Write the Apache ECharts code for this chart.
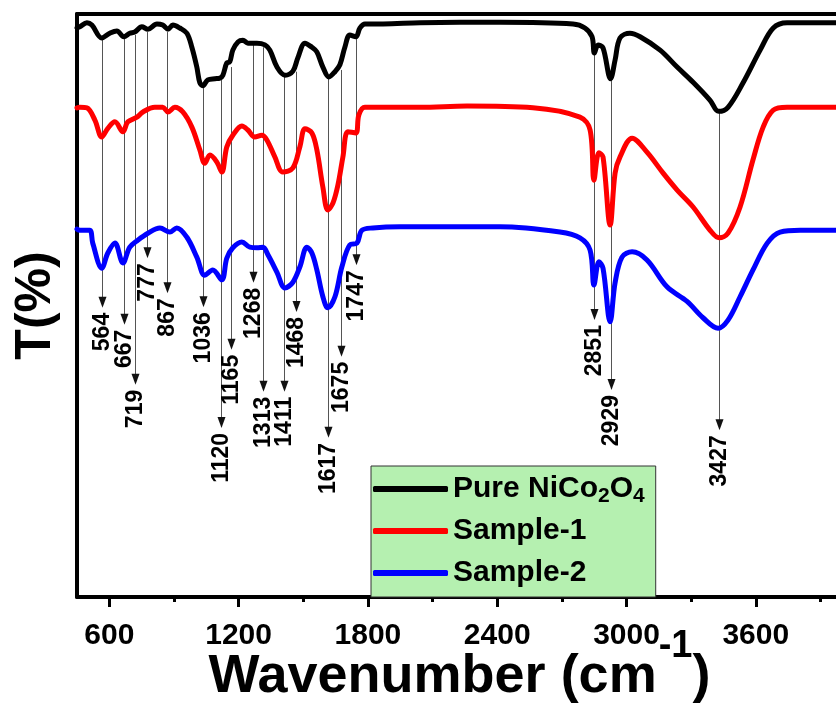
<!DOCTYPE html>
<html>
<head>
<meta charset="utf-8">
<script src="https://cdn.jsdelivr.net/npm/echarts@6/dist/echarts.min.js"></script>
<style>
html,body{margin:0;padding:0;background:#fff;}
#chart{width:836px;height:707px;}
</style>
</head>
<body>
<div id="chart"></div>
<script>
// ---- data ----
const seriesNames = ['Pure NiCo2O4', 'Sample-1', 'Sample-2'];

const waveBlack = [450,463,496,519,565,602,635,667,695,718,751,779,821,848,872,895,927,960,983,1006,1020,1034,1057,1090,1113,1127,1145,1159,1173,1197,1220,1243,1285,1322,1345,1378,1415,1452,1475,1508,1540,1563,1591,1619,1647,1670,1693,1716,1744,1763,1786,1870,2042,2413,2752,2807,2840,2851,2868,2891,2926,2947,2970,3016,3063,3156,3235,3309,3388,3427,3471,3541,3620,3681,3745,3973,4000];
const tBlack    = [97.6,97.8,98.5,98.1,95.9,96.7,97.1,96.1,96.7,96.9,97.8,97.4,98.3,98.1,97.4,98.1,97.6,96.7,94.3,90.9,88.2,87.7,88.7,88.9,89.0,89.5,91.6,91.8,93.8,95.2,95.5,95.0,95.0,94.7,93.8,90.9,89.5,90.2,92.5,95.0,94.3,93.5,90.9,89.2,90.1,91.3,94.3,96.4,96.1,97.6,98.3,98.3,98.5,98.6,98.3,97.6,96.1,93.3,94.7,94.2,88.9,92.1,95.9,96.7,96.1,93.8,90.9,88.3,85.2,83.3,84.0,88.2,93.8,97.6,98.5,98.5,98.5];

const waveRed = [450,463,496,533,565,593,626,663,686,728,756,811,848,872,904,941,983,1020,1043,1067,1099,1122,1145,1173,1215,1243,1275,1308,1331,1368,1405,1452,1484,1508,1540,1563,1591,1614,1638,1661,1684,1707,1744,1758,1786,2042,2260,2566,2784,2831,2849,2872,2891,2924,2947,2970,3026,3095,3170,3235,3309,3388,3430,3471,3527,3587,3634,3681,3745,4000];
const tRed    = [83.9,84.0,83.9,81.8,78.9,80.4,81.5,79.8,81.5,82.3,83.2,84.0,84.0,83.2,84.0,83.2,80.6,76.7,74.4,75.8,74.6,72.9,77.2,79.2,80.8,80.1,78.9,79.2,78.4,75.5,72.9,73.6,77.2,80.3,79.6,76.7,70.3,66.4,67.6,70.7,75.5,79.8,79.6,82.7,84.0,84.0,84.2,83.9,82.3,80.1,71.5,76.2,75.5,63.8,72.7,75.5,78.7,76.3,72.7,69.8,66.9,62.9,61.6,62.4,66.9,75.0,80.6,83.5,84.0,84.0];

const waveBlue = [450,463,509,523,565,593,626,663,695,732,779,835,881,913,960,1006,1043,1080,1122,1145,1173,1215,1252,1285,1313,1336,1378,1415,1452,1484,1517,1540,1563,1591,1614,1647,1679,1716,1749,1772,1823,1949,2413,2691,2784,2831,2849,2872,2891,2924,2947,2979,3026,3095,3188,3281,3355,3425,3471,3527,3587,3653,3713,3806,4000];
const tBlue    = [63.1,62.9,62.9,60.7,56.4,59.0,60.7,57.3,60.0,61.2,62.4,63.3,62.6,63.3,61.7,58.3,55.2,56.1,54.4,58.1,59.9,60.9,60.0,59.9,60.0,58.7,55.7,53.0,54.0,56.6,60.0,59.0,56.1,51.5,49.6,51.5,56.6,60.4,60.7,62.9,63.3,63.5,63.5,62.6,61.6,59.5,53.5,57.5,56.4,47.2,53.9,58.3,59.2,57.8,53.2,50.7,47.9,46.1,47.5,51.5,56.1,60.7,62.6,62.9,62.9];

// peak annotations: wavenumber, line start (T), arrow tip (T)
const peakWave  = [564,667,719,777,867,1036,1120,1165,1268,1313,1411,1468,1617,1675,1747,2851,2929,3427];
const peakTop   = [95.7,95.9,96.4,96.9,96.9,87.3,88.7,90.9,94.7,94.3,89.5,90.1,89.0,90.4,96.1,93.0,88.7,83.2];
const peakArrow = [49.6,46.7,36.4,58.1,52.1,49.7,29.0,42.4,53.9,35.2,35.2,48.9,27.3,41.2,56.9,47.5,35.5,28.6];

const majorTicks = [600,1200,1800,2400,3000,3600];
const minorTicks = [900,1500,2100,2700,3300,3900];

const FONT = '"Liberation Sans", Arial, sans-serif';
const zip = (xs, ys) => xs.map((x, i) => [x, ys[i]]);

const chart = echarts.init(document.getElementById('chart'), null, {renderer: 'canvas'});

const peakData = peakWave.map((w, i) => [w, peakTop[i], peakArrow[i]]);

const curveStyle = (c) => ({
  type: 'line', showSymbol: false, symbol: 'none', smooth: 0.35, z: 5,
  lineStyle: {color: c, width: 5, cap: 'round', join: 'round'},
  itemStyle: {color: c}
});

function renderPeak(params, api) {
  const w = api.value(0);
  const p0 = api.coord([w, api.value(1)]);
  const p1 = api.coord([w, api.value(2)]);
  const x = Math.round(p0[0]) + 0.5;
  return {
    type: 'group',
    children: [
      {type: 'line', shape: {x1: x, y1: p0[1], x2: x, y2: p1[1] - 8},
       style: {stroke: '#555', lineWidth: 1}},
      {type: 'polygon', shape: {points: [[x - 4, p1[1] - 11], [x + 4, p1[1] - 11], [x, p1[1]]]},
       style: {fill: '#111'}},
      {type: 'text', x: x, y: p1[1] + 5, rotation: Math.PI / 2,
       style: {text: String(w), align: 'right', verticalAlign: 'middle', fill: '#000',
               font: 'bold 23px "Liberation Sans", Arial, sans-serif'}}
    ]
  };
}

chart.setOption({
  animation: false,
  backgroundColor: '#ffffff',
  grid: {left: 77, right: -6, top: 14, bottom: 110, containLabel: false, outerBoundsMode: 'none'},
  xAxis: [
    {
      type: 'value', position: 'bottom', min: 450, max: 4000,
      axisLine: {show: true, lineStyle: {color: '#000', width: 4}},
      axisTick: {show: true, inside: false, length: 10, customValues: majorTicks, lineStyle: {color: '#000', width: 3}},
      axisLabel: {show: true, customValues: majorTicks, margin: 24, color: '#000', fontFamily: FONT, fontWeight: 'bold', fontSize: 30,
                  formatter: (v) => String(v)},
      splitLine: {show: false},
      name: 'Wavenumber (cm{sup|-1})',
      nameLocation: 'middle', nameGap: 25, nameMoveOverlap: false,
      nameTextStyle: {
        color: '#000', fontFamily: FONT, fontWeight: 'bold', fontSize: 54, lineHeight: 110,
        rich: {sup: {color: '#000', fontFamily: FONT, fontWeight: 'bold', fontSize: 38, lineHeight: 38, verticalAlign: 'top', padding: [6, 0, 0, 2]}}
      }
    },
    {
      type: 'value', position: 'bottom', min: 450, max: 4000,
      axisLine: {show: false},
      axisTick: {show: true, inside: false, length: 5, customValues: minorTicks, lineStyle: {color: '#000', width: 3}},
      axisLabel: {show: false},
      splitLine: {show: false}
    },
    {
      type: 'value', position: 'top', min: 450, max: 4000,
      axisLine: {show: true, lineStyle: {color: '#000', width: 4}},
      axisTick: {show: false}, axisLabel: {show: false}, splitLine: {show: false}
    }
  ],
  yAxis: {
    type: 'value', min: 0, max: 100,
    axisLine: {show: true, lineStyle: {color: '#000', width: 4}},
    axisTick: {show: false}, axisLabel: {show: false}, splitLine: {show: false},
    name: 'T(%)', nameLocation: 'middle', nameGap: 16, nameRotate: 90, nameMoveOverlap: false,
    nameTextStyle: {color: '#000', fontFamily: FONT, fontWeight: 'bold', fontSize: 50}
  },
  legend: {
    data: seriesNames,
    orient: 'vertical', left: 371, top: 466,
    backgroundColor: '#b5f0b0', borderColor: '#333', borderWidth: 1,
    padding: [5, 11, 6, 2], itemGap: 6,
    itemWidth: 75, itemHeight: 6, icon: 'roundRect', itemStyle: {borderWidth: 0},
    formatter: (n) => n === 'Pure NiCo2O4' ? 'Pure NiCo{s|2}O{s|4}' : n,
    textStyle: {
      color: '#000', fontFamily: FONT, fontWeight: 'bold', fontSize: 30, lineHeight: 36,
      rich: {s: {color: '#000', fontFamily: FONT, fontWeight: 'bold', fontSize: 21, lineHeight: 21, verticalAlign: 'bottom'}}
    },
    selectedMode: false
  },
  series: [
    {
      name: 'peaks', type: 'custom', z: 2, silent: true, clip: false,
      encode: {x: 0, y: 1},
      data: peakData,
      renderItem: renderPeak
    },
    Object.assign({name: seriesNames[0], data: zip(waveBlack, tBlack)}, curveStyle('#000000')),
    Object.assign({name: seriesNames[1], data: zip(waveRed, tRed)}, curveStyle('#ff0000')),
    Object.assign({name: seriesNames[2], data: zip(waveBlue, tBlue)}, curveStyle('#0000ff'))
  ]
});
</script>
</body>
</html>
